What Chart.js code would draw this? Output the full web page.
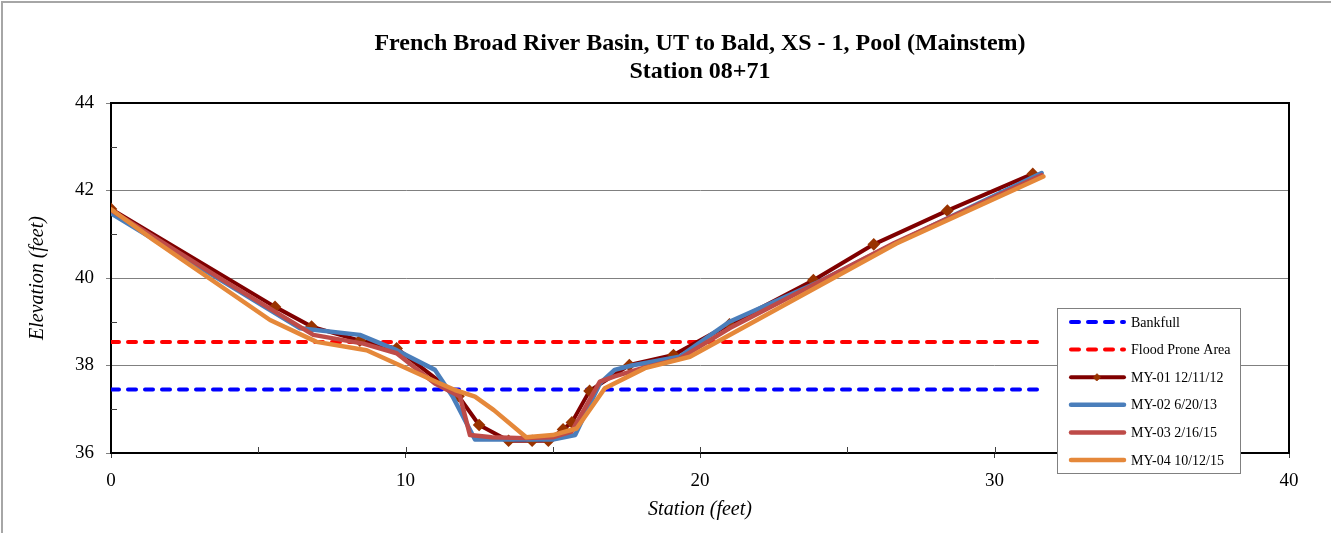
<!DOCTYPE html>
<html>
<head>
<meta charset="utf-8">
<script src="https://cdn.jsdelivr.net/npm/chart.js@4.4.1/dist/chart.umd.min.js"></script>
<style>
  html, body { margin: 0; padding: 0; background: #fff; }
  #wrap { position: relative; width: 1331px; height: 533px; }
</style>
</head>
<body>
<div id="wrap"><canvas id="xs"></canvas></div>
<script>
const titleLines = ['French Broad River Basin, UT to Bald, XS - 1, Pool (Mainstem)', 'Station 08+71']

// horizontal reference lines
const refStations = [0, 31.7]
const bankfullElev = 37.45
const floodProneElev = 38.54

// survey lines, station (ft) / elevation (ft)
const my01Station = [0, 5.57, 6.81, 8.45, 9.7, 11.8, 12.5, 13.5, 14.3, 14.85, 15.35, 15.65, 16.25, 17.6, 19.1, 21.0, 23.85, 25.9, 28.4, 31.3]
const my01Elev    = [41.58, 39.34, 38.89, 38.57, 38.39, 37.3, 36.64, 36.28, 36.28, 36.28, 36.54, 36.7, 37.42, 38.01, 38.24, 38.94, 39.95, 40.77, 41.54, 42.38]

const my02Station = [0, 6.42, 8.45, 9.7, 11.0, 11.6, 12.36, 15.0, 15.76, 16.6, 17.1, 17.68, 19.3, 21.0, 24.0, 26.5, 31.6]
const my02Elev    = [41.48, 38.85, 38.7, 38.35, 37.9, 37.29, 36.31, 36.31, 36.41, 37.59, 37.9, 38.0, 38.2, 39.0, 39.9, 40.75, 42.4]

const my03Station = [0, 3.8, 6.87, 8.57, 9.7, 11.0, 11.85, 12.19, 12.93, 14.06, 15.0, 15.64, 16.6, 17.1, 18.1, 19.3, 21.0, 26.6, 31.6]
const my03Elev    = [41.55, 39.95, 38.7, 38.5, 38.28, 37.59, 37.29, 36.41, 36.36, 36.34, 36.36, 36.49, 37.63, 37.75, 37.95, 38.15, 38.85, 40.8, 42.35]

const my04Station = [0, 1.44, 5.4, 6.98, 8.68, 11.0, 11.68, 12.36, 13.0, 14.1, 15.0, 15.81, 16.77, 18.13, 19.66, 26.67, 31.66]
const my04Elev    = [41.57, 40.87, 39.04, 38.54, 38.35, 37.64, 37.44, 37.29, 36.98, 36.36, 36.41, 36.56, 37.48, 37.94, 38.2, 40.79, 42.32]

const pts = (xs, ys) => xs.map((x, i) => ({ x: x, y: ys[i] }))
const flat = (xs, v) => xs.map(x => ({ x: x, y: v }))

const serif = '"Liberation Serif", "Times New Roman", serif'
Chart.defaults.font.family = serif
Chart.defaults.color = '#000'

// white page, outer frame, plot frame and inner ticks
const frame = {
  id: 'frame',
  beforeDraw(chart) {
    const ctx = chart.ctx
    ctx.save()
    ctx.fillStyle = '#fff'
    ctx.fillRect(0, 0, chart.width, chart.height)
    ctx.strokeStyle = '#a6a6a6'
    ctx.lineWidth = 2
    ctx.beginPath()
    ctx.moveTo(2, chart.height)
    ctx.lineTo(2, 2)
    ctx.lineTo(chart.width, 2)
    ctx.stroke()
    ctx.restore()
  },
  beforeDatasetsDraw(chart) {
    const { ctx, chartArea: a, scales: { x, y } } = chart
    ctx.save()
    ctx.strokeStyle = '#000'
    ctx.lineWidth = 2
    ctx.strokeRect(a.left, a.top, a.right - a.left, a.bottom - a.top)
    ctx.strokeStyle = '#404040'
    ctx.lineWidth = 1
    ctx.beginPath()
    for (let v = 5; v < 40; v += 5) {
      const px = Math.round(x.getPixelForValue(v)) + 0.5
      ctx.moveTo(px, a.bottom)
      ctx.lineTo(px, a.bottom - 6)
    }
    for (let v = 37; v < 44; v += 2) {
      const py = Math.round(y.getPixelForValue(v)) + 0.5
      ctx.moveTo(a.left, py)
      ctx.lineTo(a.left + 6, py)
    }
    ctx.stroke()
    ctx.restore()
  }
}

// boxed legend sitting over the lower right of the plot
const legendBox = {
  id: 'legendBox',
  afterDraw(chart) {
    const ctx = chart.ctx
    const x0 = 1057, y0 = 308, w = 183, h = 165
    ctx.save()
    ctx.fillStyle = '#fff'
    ctx.fillRect(x0, y0, w, h)
    ctx.strokeStyle = '#808080'
    ctx.lineWidth = 1
    ctx.strokeRect(x0 + 0.5, y0 + 0.5, w, h)
    ctx.font = '14px ' + serif
    ctx.textBaseline = 'middle'
    chart.data.datasets.forEach((ds, i) => {
      const yy = y0 + 14 + i * 27.6
      ctx.strokeStyle = ds.borderColor
      ctx.lineWidth = ds.borderWidth
      ctx.lineCap = 'round'
      ctx.setLineDash(ds.borderDash || [])
      ctx.beginPath()
      ctx.moveTo(1071, yy)
      ctx.lineTo(1124, yy)
      ctx.stroke()
      ctx.setLineDash([])
      if (ds.pointRadius) {
        ctx.fillStyle = ds.pointBackgroundColor
        ctx.strokeStyle = ds.pointBorderColor
        ctx.lineWidth = 1
        Chart.helpers.drawPoint(ctx, { pointStyle: ds.pointStyle, radius: ds.pointRadius, rotation: 0, borderWidth: 1 }, 1097, yy)
      }
      ctx.fillStyle = '#000'
      ctx.fillText(ds.label, 1131, yy + 1)
    })
    ctx.restore()
  }
}

const dashed = { borderWidth: 4, borderDash: [8, 9], borderCapStyle: 'round', pointRadius: 0 }
const solid = { borderWidth: 4.5, borderCapStyle: 'round', borderJoinStyle: 'round', pointRadius: 0 }

new Chart(document.getElementById('xs'), {
  type: 'line',
  data: {
    datasets: [
      { label: 'Bankfull', data: flat(refStations, bankfullElev), borderColor: '#0000ff', order: 5, ...dashed },
      { label: 'Flood Prone Area', data: flat(refStations, floodProneElev), borderColor: '#ff0000', order: 4, ...dashed },
      { label: 'MY-01 12/11/12', data: pts(my01Station, my01Elev), borderColor: '#800000', order: 3,
        borderWidth: 4, borderJoinStyle: 'round', pointStyle: 'rectRot', pointRadius: 3.5,
        pointBackgroundColor: '#993300', pointBorderColor: '#993300' },
      { label: 'MY-02 6/20/13', data: pts(my02Station, my02Elev), borderColor: '#4a7ebb', order: 2, ...solid },
      { label: 'MY-03 2/16/15', data: pts(my03Station, my03Elev), borderColor: '#be4b48', order: 1, ...solid },
      { label: 'MY-04 10/12/15', data: pts(my04Station, my04Elev), borderColor: '#e5883a', order: 0, ...solid }
    ]
  },
  options: {
    responsive: true,
    maintainAspectRatio: false,
    animation: false,
    layout: { padding: { left: 0, right: 42, top: 0, bottom: 0 } },
    scales: {
      x: {
        type: 'linear',
        min: 0,
        max: 40,
        afterFit: s => { s.height = 80 },
        ticks: { stepSize: 10, padding: 12, font: { size: 19 }, maxRotation: 0 },
        grid: { drawOnChartArea: false, tickLength: 5, color: '#404040' },
        border: { color: '#000', width: 2 },
        title: { display: true, text: 'Station (feet)', font: { size: 20, style: 'italic' }, padding: { top: 0, bottom: 11 } }
      },
      y: {
        min: 36,
        max: 44,
        afterFit: s => { s.width = 111 },
        ticks: { stepSize: 2, padding: 12, font: { size: 19 } },
        grid: { color: '#808080', tickLength: 5 },
        border: { color: '#000', width: 2 },
        title: { display: true, text: 'Elevation (feet)', font: { size: 20, style: 'italic' }, padding: { top: 26, bottom: 0 } }
      }
    },
    plugins: {
      legend: { display: false },
      tooltip: { enabled: false },
      title: {
        display: true,
        fullSize: false,
        text: titleLines,
        font: { size: 24, weight: 'bold', lineHeight: 28 / 24 },
        padding: { top: 30, bottom: 17 }
      }
    }
  },
  plugins: [frame, legendBox]
})
</script>
</body>
</html>
